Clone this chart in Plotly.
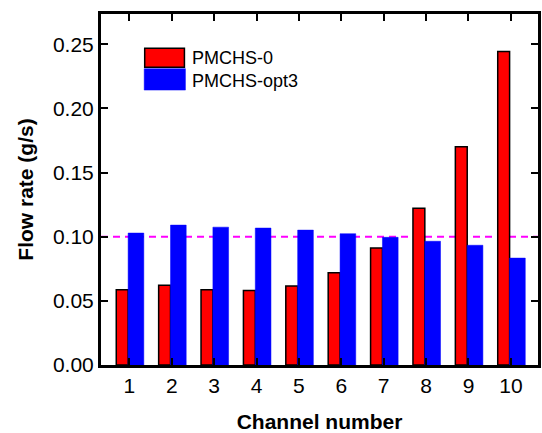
import plotly.graph_objects as go

# Flow rate per channel for the two header designs
channels = [1, 2, 3, 4, 5, 6, 7, 8, 9, 10]
pmchs_0 = [0.0587, 0.0621, 0.0587, 0.0580, 0.0616, 0.0719, 0.0912, 0.1221, 0.1700, 0.2443]
pmchs_opt3 = [0.1028, 0.1090, 0.1074, 0.1067, 0.1051, 0.1023, 0.0995, 0.0964, 0.0933, 0.0833]
series_names = ["PMCHS-0", "PMCHS-opt3"]
target_rate = 0.10
y_ticks = [0.00, 0.05, 0.10, 0.15, 0.20, 0.25]

W, H = 542, 433
M = dict(l=101, r=1, t=14, b=66)
FONT = "Arial, Liberation Sans, Helvetica, sans-serif"

plot_w = W - M["l"] - M["r"]
plot_h = H - M["t"] - M["b"]


def px_x(p):
    return (p - M["l"]) / plot_w


def px_y(p):
    return 1 - (p - M["t"]) / plot_h


fig = go.Figure()
fig.add_trace(go.Bar(
    x=channels, y=pmchs_0, name=series_names[0],
    width=0.28, offset=-0.31,
    marker=dict(color="#FF0000", line=dict(color="black", width=1.5)),
))
fig.add_trace(go.Bar(
    x=channels, y=pmchs_opt3, name=series_names[1],
    width=0.37, offset=-0.03,
    marker=dict(color="#0000FF", line=dict(color="#0000FF", width=0.5)),
))

# Reference line at the target flow rate
fig.add_shape(type="line", xref="paper", yref="y", x0=0, x1=1,
              y0=target_rate, y1=target_rate, layer="below",
              line=dict(color="#FF00FF", width=2, dash="7px,5px"))

# Legend drawn as swatches + labels inside the plot
swatches = [
    dict(x0=145, x1=185, y0=48.5, y1=67.5, fill="#FF0000", line="black", lw=1.5, ty=58),
    dict(x0=144.5, x1=186, y0=69, y1=90.5, fill="#0000FF", line="#0000FF", lw=0.5, ty=81),
]
for name, s in zip(series_names, swatches):
    fig.add_shape(type="rect", xref="paper", yref="paper",
                  x0=px_x(s["x0"]), x1=px_x(s["x1"]),
                  y0=px_y(s["y1"]), y1=px_y(s["y0"]),
                  fillcolor=s["fill"], line=dict(color=s["line"], width=s["lw"]))
    fig.add_annotation(xref="paper", yref="paper", x=px_x(191), y=px_y(s["ty"]),
                       text=name, showarrow=False, xanchor="left", yanchor="middle",
                       font=dict(family=FONT, size=18, color="black"))

axis_common = dict(
    showline=True, linecolor="black", linewidth=3, mirror="ticks",
    ticks="inside", ticklen=7, tickwidth=2, tickcolor="black",
    showgrid=False, zeroline=False,
    tickfont=dict(family=FONT, size=21, color="black"),
)

fig.update_xaxes(
    range=[0.33, 10.64], tickvals=channels, ticktext=[str(c) for c in channels],
    title=dict(text="<b>Channel number</b>", font=dict(family=FONT, size=21, color="black"),
               standoff=20),
    **axis_common,
)
fig.update_yaxes(
    range=[0, 0.2735], tickvals=y_ticks, tickformat=".2f",
    title=dict(text="<b>Flow rate (g/s)</b>", font=dict(family=FONT, size=21, color="black"),
               standoff=14),
    **axis_common,
)

fig.update_layout(
    width=W, height=H, margin=M,
    barmode="overlay", showlegend=False,
    plot_bgcolor="white", paper_bgcolor="white",
    font=dict(family=FONT, color="black"),
)

fig.write_html("out.html")
